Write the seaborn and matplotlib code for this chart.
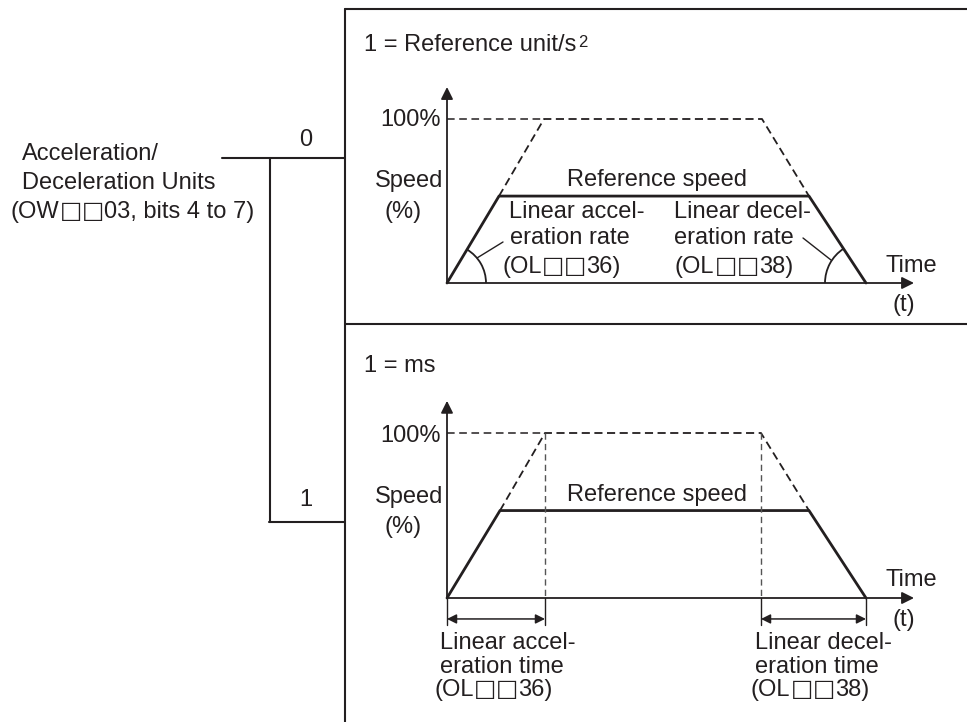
import math
import numpy as np
import pandas as pd
import matplotlib
matplotlib.use("Agg")
import matplotlib.pyplot as plt
from matplotlib.patches import Arc
import seaborn as sns

# ---------------- data ----------------
# Upper chart (1 = Reference unit/s^2)
rate_time_full = [0, 9.7, 31.5, 41.9]      # 100 % speed profile (time units)
rate_speed_full = [0, 100, 100, 0]          # %
rate_time_ref = [0, 5.2, 36.2, 41.9]       # reference-speed profile
rate_speed_ref = [0, 53, 53, 0]

# Lower chart (1 = ms)
ms_time_full = [0, 9.8, 31.4, 41.9]
ms_speed_full = [0, 100, 100, 0]
ms_time_ref = [0, 5.3, 36.2, 41.9]
ms_speed_ref = [0, 53, 53, 0]

axis_time_max = 46.7
axis_speed_max = 119.5

# ---------------- style ----------------
sns.set_theme(style="white")
plt.rcParams["font.family"] = ["Liberation Sans", "DejaVu Sans"]
INK = "#231f20"
GREY = "#555555"
FS = 17
SQ = "\u25a1"

W, H = 967, 722
fig = plt.figure(figsize=(W / 100, H / 100), dpi=100)
fig.patch.set_facecolor("white")
renderer = fig.canvas.get_renderer()

ax0 = fig.add_axes([0, 0, 1, 1])
ax0.set_xlim(0, W)
ax0.set_ylim(H, 0)
ax0.axis("off")


def txt(x, y, s, ha="left", **kw):
    return ax0.text(x, y, s, ha=ha, va="center", fontsize=FS, color=INK, **kw)


def rich(x, y, s):
    """Left-aligned text where the square sign is drawn with DejaVu Sans."""
    base = y + 6
    parts = []
    cur = ""
    for ch in s:
        if ch == SQ:
            if cur:
                parts.append((cur, "Liberation Sans", "normal"))
                cur = ""
            parts.append((ch, "DejaVu Sans", "bold"))
        else:
            cur += ch
    if cur:
        parts.append((cur, "Liberation Sans", "normal"))
    xpos = x
    for p, fam, wt in parts:
        t = ax0.text(xpos, base, p, ha="left", va="baseline", fontsize=FS,
                     color=INK, family=fam, fontweight=wt)
        bb = t.get_window_extent(renderer=renderer)
        xpos += bb.width  # 1 data unit == 1 pixel in ax0
    return xpos


def chart_axes(ox, oy, sx, sy, xlim, ylim):
    left = ox + xlim[0] * sx
    right = ox + xlim[1] * sx
    top = oy - ylim[1] * sy
    bottom = oy - ylim[0] * sy
    ax = fig.add_axes([left / W, (H - bottom) / H, (right - left) / W, (bottom - top) / H])
    ax.set_xlim(*xlim)
    ax.set_ylim(*ylim)
    ax.axis("off")
    ax.patch.set_alpha(0)
    return ax


# ---------------- frame & branch lines ----------------
FLW = 1.5
ax0.plot([345, 345], [9, H + 2], color=INK, lw=FLW)
ax0.plot([345, W + 2], [9, 9], color=INK, lw=FLW)
ax0.plot([345, W + 2], [324, 324], color=INK, lw=FLW)
ax0.plot([222, 345], [158, 158], color=INK, lw=FLW)
ax0.plot([270, 270], [158, 522], color=INK, lw=FLW)
ax0.plot([269, 345], [522, 522], color=INK, lw=FLW)

txt(22, 154, "Acceleration/")
txt(22, 183, "Deceleration Units")
rich(11, 212, "(OW" + SQ + SQ + "03, bits 4 to 7)")
txt(306, 140, "0", ha="center")
txt(306, 500, "1", ha="center")

t1 = txt(364, 45, "1 = Reference unit/s")
ax0.annotate("2", xy=(1, 1), xycoords=t1, xytext=(1, -1), textcoords="offset points",
             ha="left", va="top", fontsize=12, color=INK)
txt(364, 366, "1 = ms")


def draw_chart(ax, t_full, v_full, t_ref, v_ref):
    arrow = dict(arrowstyle="-|>", color=INK, lw=1.3, mutation_scale=18,
                 shrinkA=0, shrinkB=0)
    ax.annotate("", xy=(0, axis_speed_max), xytext=(0, 0), arrowprops=arrow,
                annotation_clip=False)
    ax.annotate("", xy=(axis_time_max, 0), xytext=(0, 0), arrowprops=arrow,
                annotation_clip=False)
    ax.plot([0, t_full[1]], [v_full[1], v_full[1]], color=INK, lw=1.1,
            dashes=(5, 3), clip_on=False)
    dashed = pd.DataFrame({"t": [t_ref[1], t_full[1], t_full[2], t_ref[2]],
                           "v": [v_ref[1], v_full[1], v_full[2], v_ref[2]]})
    sns.lineplot(data=dashed, x="t", y="v", sort=False, ax=ax, color=INK,
                 lw=1.3, estimator=None)
    ax.lines[-1].set_dashes((4.5, 2.5))
    ax.lines[-1].set_clip_on(False)
    solid = pd.DataFrame({"t": t_ref, "v": v_ref})
    sns.lineplot(data=solid, x="t", y="v", sort=False, ax=ax, color=INK, lw=2.0,
                 estimator=None)
    ax.lines[-1].set_clip_on(False)
    ax.set_xlabel("")
    ax.set_ylabel("")
    ax.axis("off")


# ---------------- upper chart ----------------
ox, oy1, sx, sy1 = 447, 283, 10.0, 1.64
axA = chart_axes(ox, oy1, sx, sy1, (-5, 50), (-25, 125))
draw_chart(axA, rate_time_full, rate_speed_full, rate_time_ref, rate_speed_ref)

th = math.degrees(math.atan2(rate_speed_ref[1] * sy1, rate_time_ref[1] * sx))
ax0.add_patch(Arc((ox, oy1), 78, 78, theta1=-th, theta2=0, color=INK, lw=1.3))
dt = (rate_time_ref[3] - rate_time_ref[2]) * sx
th2 = math.degrees(math.atan2(rate_speed_ref[2] * sy1, dt))
xend = ox + rate_time_ref[3] * sx
ax0.add_patch(Arc((xend, oy1), 82, 82, theta1=180, theta2=180 + th2, color=INK, lw=1.3))
ax0.plot([477, 503], [258, 242], color=INK, lw=1.0)
ax0.plot([831, 803], [260, 238], color=INK, lw=1.0)

txt(441, 120, "100%", ha="right")
txt(443, 181, "Speed", ha="right")
txt(403, 212, "(%)", ha="center")
txt(657, 180, "Reference speed", ha="center")
txt(509, 212, "Linear accel-")
txt(510, 238, "eration rate")
rich(502, 267, "(OL" + SQ + SQ + "36)")
txt(674, 212, "Linear decel-")
txt(674, 238, "eration rate")
rich(675, 267, "(OL" + SQ + SQ + "38)")
txt(886, 266, "Time")
txt(892, 305, "(t)")

# ---------------- lower chart ----------------
oy2, sy2 = 598, 1.65
axB = chart_axes(ox, oy2, sx, sy2, (-5, 50), (-25, 125))
draw_chart(axB, ms_time_full, ms_speed_full, ms_time_ref, ms_speed_ref)

tick_low = -16.4
arrow_lvl = -12.7
for tv in [ms_time_full[1], ms_time_full[2]]:
    axB.plot([tv, tv], [ms_speed_full[1], 0], color=GREY, lw=1.0, dashes=(4.5, 3),
             clip_on=False)
for tv in [0, ms_time_full[1], ms_time_full[2], ms_time_full[3]]:
    axB.plot([tv, tv], [0, tick_low], color=INK, lw=1.0, clip_on=False)
darrow = dict(arrowstyle="<|-|>", color=INK, lw=1.1, mutation_scale=14,
              shrinkA=0, shrinkB=0)
axB.annotate("", xy=(ms_time_full[1], arrow_lvl), xytext=(0, arrow_lvl),
             arrowprops=darrow, annotation_clip=False)
axB.annotate("", xy=(ms_time_full[3], arrow_lvl), xytext=(ms_time_full[2], arrow_lvl),
             arrowprops=darrow, annotation_clip=False)

txt(441, 436, "100%", ha="right")
txt(443, 497, "Speed", ha="right")
txt(403, 527, "(%)", ha="center")
txt(657, 495, "Reference speed", ha="center")
txt(886, 580, "Time")
txt(892, 620, "(t)")
txt(440, 643, "Linear accel-")
txt(440, 667, "eration time")
rich(434, 690, "(OL" + SQ + SQ + "36)")
txt(755, 643, "Linear decel-")
txt(755, 667, "eration time")
rich(751, 690, "(OL" + SQ + SQ + "38)")

fig.savefig("out.png", dpi=100, facecolor="white")
